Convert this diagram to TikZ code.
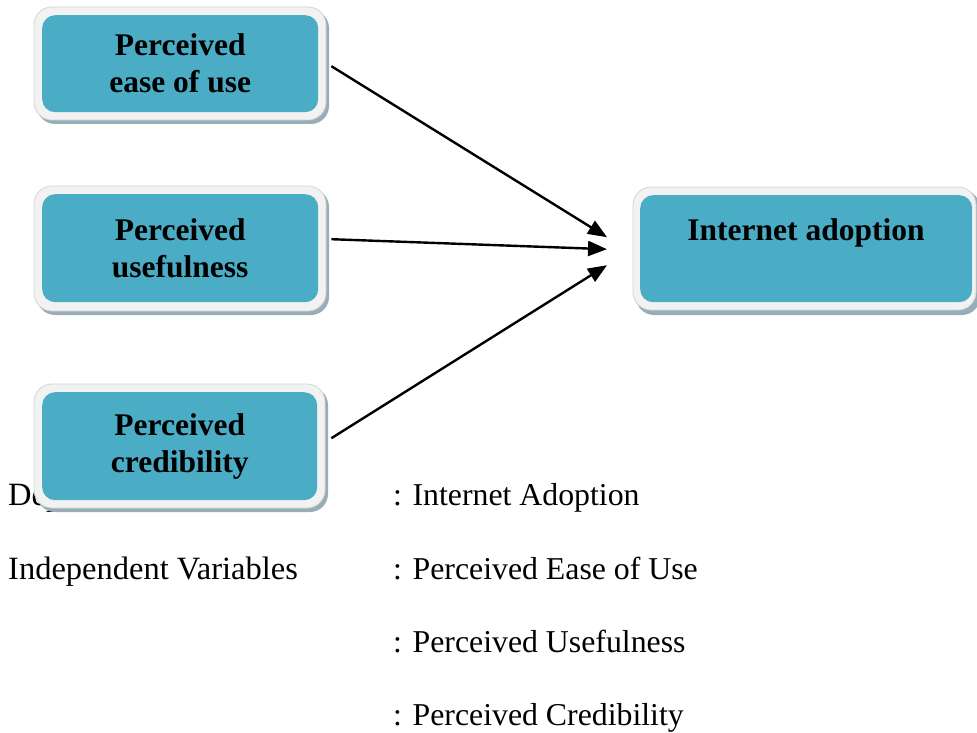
\documentclass[tikz,border=0pt]{standalone}
\usepackage{fontspec}
\setmainfont{Liberation Serif}
\usetikzlibrary{arrows.meta,calc}
\definecolor{boxteal}{HTML}{4BACC6}
\definecolor{framegray}{HTML}{F2F2F2}
\definecolor{frameedge}{HTML}{D4D4D4}
\definecolor{shadowgray}{HTML}{97ADB7}
\begin{document}
\begin{tikzpicture}[x=1pt,y=-1pt,
  boxfill/.style={fill=boxteal, rounded corners=13pt, anchor=north west, inner sep=0pt},
  framefill/.style={fill=framegray, draw=frameedge, line width=0.8pt, rounded corners=18pt},
  shadowfill/.style={fill=shadowgray, rounded corners=18pt},
  boxlabel/.style={font=\fontsize{31.5}{37}\selectfont\bfseries, align=center, text=black, inner sep=0pt},
  plaintext/.style={font=\fontsize{32.5}{38}\selectfont, anchor=base west, inner sep=0pt},
  valuetext/.style={plaintext, font=\fontsize{31.8}{38}\selectfont},
  link/.style={-{Triangle[length=19pt,width=15pt]}, line width=2.4pt}]

\useasboundingbox (0,0) rectangle (977,733);
\fill[white] (0,0) rectangle (977,733);
\clip (0,0) rectangle (977,733);

% variable list (drawn first, the lower box overlaps its first line)
\node[plaintext] (dep)    at (8,505)   {Dependent Variable};
\node[valuetext] (depval) at (393,505) {: Internet Adoption};
\node[plaintext] (indep)  at (8,579)   {Independent Variables};
\node[valuetext] (ind1)   at (393,579) {: Perceived Ease of Use};
\node[valuetext] (ind2)   at (393,652) {: Perceived Usefulness};
\node[valuetext] (ind3)   at (393,725) {: Perceived Credibility};

% perceived ease of use
\fill[shadowfill] (37,10) rectangle (329,124);
\filldraw[framefill] (34,7) rectangle (326,120);
\node[boxfill, minimum width=276pt, minimum height=97pt] (b1) at (42,15) {};
\node[boxlabel] (t1) at (b1.center) {Perceived\\ease of use};

% perceived usefulness
\fill[shadowfill] (37,189) rectangle (329,315);
\filldraw[framefill] (34,186) rectangle (326,311);
\node[boxfill, minimum width=276pt, minimum height=108pt] (b2) at (42,194) {};
\node[boxlabel] (t2) at (b2.center) {Perceived\\usefulness};

% perceived credibility
\fill[shadowfill] (37,387) rectangle (328,512);
\filldraw[framefill] (34,384) rectangle (325,508);
\node[boxfill, minimum width=275pt, minimum height=108pt] (b3) at (42,392) {};
\node[boxlabel] (t3) at (b3.center) {Perceived\\credibility};

% internet adoption
\fill[shadowfill] (636,190) rectangle (980,315);
\filldraw[framefill] (633,187) rectangle (976,310);
\node[boxfill, minimum width=332pt, minimum height=107pt] (b4) at (640,195) {};
\node[boxlabel, anchor=base] (t4) at (806,240) {Internet adoption};

% arrows into the dependent variable
\coordinate (e1) at ($(b4.west)+(-33,-11.5)$);
\coordinate (e2) at ($(b4.west)+(-33,0.5)$);
\coordinate (e3) at ($(b4.west)+(-33,16.5)$);
\draw[link] ($(b1.east)+(13,2.5)$) -- (e1);
\draw[link] ($(b2.east)+(13,-9)$) -- (e2);
\draw[link] ($(b3.east)+(14,-8)$) -- (e3);
\end{tikzpicture}
\end{document}
